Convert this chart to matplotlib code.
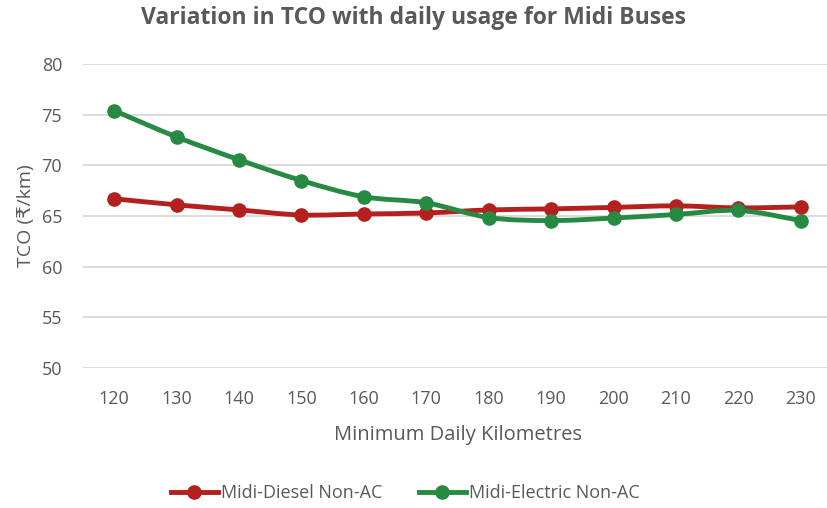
import matplotlib
matplotlib.use("Agg")
import matplotlib.pyplot as plt
from matplotlib.path import Path
from matplotlib.patches import PathPatch
from matplotlib.lines import Line2D

plt.rcParams['font.family'] = ['Open Sans', 'DejaVu Sans']

km = [120, 130, 140, 150, 160, 170, 180, 190, 200, 210, 220, 230]
diesel = [66.7, 66.1, 65.6, 65.1, 65.2, 65.3, 65.6, 65.7, 65.85, 66.0, 65.8, 65.9]
electric = [75.4, 72.8, 70.55, 68.5, 66.9, 66.3, 64.85, 64.55, 64.8, 65.15, 65.55, 64.55]
yticks = [50, 55, 60, 65, 70, 75, 80]
title = "Variation in TCO with daily usage for Midi Buses"
xlabel = "Minimum Daily Kilometres"
ylabel = "TCO (₹/km)"
names = ["Midi-Diesel Non-AC", "Midi-Electric Non-AC"]
colors = ["#B3201E", "#278A42"]
text_col = "#595959"

fig = plt.figure(figsize=(8.27, 5.08), dpi=100)
ax = fig.add_axes([83/827, 1-368/508, 749/827, 304/508])

xs = list(range(len(km)))


def smooth_path(x, y):
    verts = [(x[0], y[0])]
    codes = [Path.MOVETO]
    n = len(x)
    for i in range(n - 1):
        x0, y0 = (x[i-1], y[i-1]) if i > 0 else (x[i], y[i])
        x3, y3 = (x[i+2], y[i+2]) if i + 2 < n else (x[i+1], y[i+1])
        c1 = (x[i] + (x[i+1]-x0)/6, y[i] + (y[i+1]-y0)/6)
        c2 = (x[i+1] - (x3-x[i])/6, y[i+1] - (y3-y[i])/6)
        verts += [c1, c2, (x[i+1], y[i+1])]
        codes += [Path.CURVE4]*3
    return Path(verts, codes)


for vals, c in zip([diesel, electric], colors):
    p = PathPatch(smooth_path(xs, vals), fill=False, edgecolor=c, lw=3.5,
                  capstyle='round', joinstyle='round', zorder=3)
    ax.add_patch(p)
    ax.plot(xs, vals, ls='none', marker='o', ms=9.5, color=c, zorder=4)

ax.set_xlim(-0.5, len(km)-0.5)
ax.set_ylim(50, 80)
ax.set_yticks(yticks)
ax.set_xticks(xs)
ax.set_xticklabels([str(k) for k in km])
ax.grid(axis='y', color='#D9D9D9', lw=1.3)
ax.set_axisbelow(True)
for s in ax.spines.values():
    s.set_visible(False)
ax.tick_params(length=0, labelsize=13, labelcolor=text_col)
ax.tick_params(axis='x', pad=16)
ax.tick_params(axis='y', pad=15)

ax.set_xlabel(xlabel, fontsize=14.5, color=text_col, labelpad=12)
ax.set_ylabel(ylabel, fontsize=14, color=text_col, labelpad=5)
fig.text(0.5, 1-18/508, title, ha='center', va='center', fontsize=16.5,
         fontweight='bold', color=text_col)

handles = [Line2D([], [], color=c, lw=3.5, marker='o', ms=9.5) for c in colors]
fig.legend(handles, names, loc='center', bbox_to_anchor=(0.49, 1-493/508),
           ncol=2, frameon=False, fontsize=13, labelcolor=text_col,
           handlelength=2.6, handletextpad=0.2, columnspacing=2.0)

fig.savefig("out.png", dpi=100)
